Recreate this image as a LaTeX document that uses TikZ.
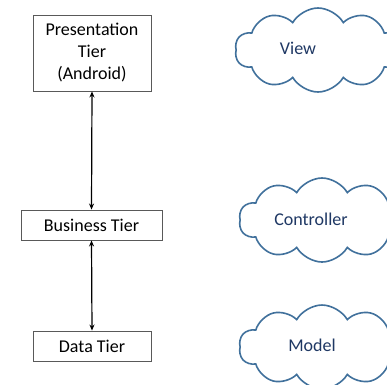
\documentclass[tikz,border=0pt]{standalone}
\usepackage{fontspec}
\setmainfont{Carlito}
\usetikzlibrary{shapes.symbols,arrows.meta}
\definecolor{cloudblue}{HTML}{41719C}
\definecolor{navytext}{HTML}{1F3864}
\definecolor{boxgray}{HTML}{595959}
\tikzset{
  tierbox/.style={draw=boxgray, line width=0.9pt, inner sep=0pt, align=center, font=\fontsize{18}{22}\selectfont},
  cloudshape/.style={cloud, draw=cloudblue, line width=1.6pt, cloud puffs=10, cloud puff arc=120, aspect=2, minimum width=166pt, minimum height=84pt, inner sep=0pt},
  cloudtext/.style={text=navytext, font=\fontsize{18}{22}\selectfont},
  link/.style={line width=1.2pt, {Stealth[length=6pt,width=5pt]}-{Stealth[length=6pt,width=5pt]}}
}
\begin{document}
\begin{tikzpicture}[x=1pt,y=-1pt]
\path[use as bounding box] (0,0) rectangle (387,384);
\clip (0,0) rectangle (387,384);
\fill[white] (0,0) rectangle (387,384);
% tiers
\node[tierbox, minimum width=118pt, minimum height=76pt] (pres) at (92,53) {Presentation\\Tier\\(Android)};
\node[tierbox, minimum width=141pt, minimum height=30pt] (bus) at (91.5,225) {Business Tier};
\node[tierbox, minimum width=118pt, minimum height=30pt] (data) at (92,346) {Data Tier};
\draw[link] (pres.south) -- (bus.north);
\draw[link] (bus.south) -- (data.north);
% clouds
\node[cloudshape] (viewcloud) at (318,50) {};
\node[cloudtext] (view) at (298,48) {View};
\node[cloudshape] (ctrlcloud) at (322,220) {};
\node[cloudtext] (ctrl) at (311,219) {Controller};
\node[cloudshape] (modelcloud) at (322,347) {};
\node[cloudtext] (model) at (312,345) {Model};
\end{tikzpicture}
\end{document}
